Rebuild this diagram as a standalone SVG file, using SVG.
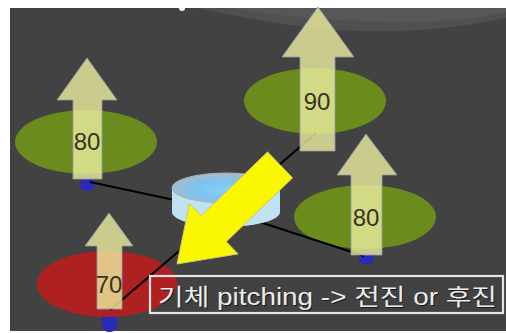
<svg xmlns="http://www.w3.org/2000/svg" width="506" height="333" viewBox="0 0 506 333">
  <style>
    .prop { fill: #6b8b1d; }
    .prop-hot { fill: #b81e1e; opacity: 0.92; }
    .knob { fill: #2a2ab8; }
    .thrust { fill: #eeeea0; fill-opacity: 0.8; stroke: #8d9fb0; stroke-width: 1; stroke-opacity: 0.8; }
    .val { font-family: "Liberation Sans", Arial, sans-serif; font-size: 24px; fill: #35351e; text-anchor: middle; }
    .arm { stroke: #000; stroke-width: 2.2; fill: none; }
    .caption { font-family: "Liberation Sans", "Noto Sans CJK KR", sans-serif; font-size: 23px; }
  </style>
  <defs>
    <radialGradient id="hubTop" cx="0.5" cy="0.55" r="0.5">
      <stop offset="0" stop-color="#86d0f8"/>
      <stop offset="0.6" stop-color="#7cc4ef"/>
      <stop offset="1" stop-color="#a4bccb"/>
    </radialGradient>
  </defs>

  <!-- page and slide background -->
  <rect width="506" height="333" fill="#ffffff"/>
  <rect x="10" y="8" width="496" height="323" fill="#424242"/>
  <path d="M196 8 C240 16 280 26 340 30 C400 34 460 28 506 18 L506 8 Z" fill="#505050"/>
  <path d="M230 8 C290 18 350 22 420 22 C460 21 490 16 506 12 L506 8 Z" fill="#575757"/>
  <circle cx="182" cy="8" r="3" fill="#ffffff"/>

  <!-- motor knobs -->
  <g id="knobs">
    <rect class="knob" x="80" y="178" width="15" height="13" rx="7"/>
    <rect class="knob" x="359" y="253" width="15" height="11" rx="6"/>
    <rect class="knob" x="102" y="306" width="15" height="26" rx="7"/>
  </g>

  <!-- propeller discs -->
  <g id="rotor-front-left"><ellipse class="prop" cx="86" cy="142" rx="71" ry="32"/></g>
  <g id="rotor-front-right"><ellipse class="prop" cx="315" cy="101" rx="71" ry="33"/></g>
  <g id="rotor-rear-right"><ellipse class="prop" cx="365" cy="217" rx="71" ry="32"/></g>
  <g id="rotor-rear-left"><ellipse class="prop-hot" cx="107" cy="284" rx="70" ry="33"/></g>

  <!-- frame arms -->
  <g id="arms">
    <line class="arm" x1="226" y1="211" x2="90" y2="182"/>
    <line class="arm" x1="226" y1="211" x2="316" y2="133"/>
    <line class="arm" x1="226" y1="211" x2="364" y2="256"/>
    <line class="arm" x1="226" y1="211" x2="110" y2="310"/>
  </g>

  <!-- central body -->
  <g id="hub">
    <path d="M172 188 L172 212 A54 15 0 0 0 280 212 L280 188 Z" fill="#bfe3f2"/>
    <ellipse cx="226" cy="188" rx="54" ry="15" fill="url(#hubTop)"/>
    <ellipse cx="226" cy="188" rx="54" ry="15" fill="none" stroke="#9fb3c0" stroke-width="1"/>
  </g>

  <!-- thrust arrows with values -->
  <g id="thrust-front-left">
    <polygon class="thrust" points="87,58 117,100 102,100 102,179 73,179 73,100 57,100"/>
    <text class="val" x="87" y="150">80</text>
  </g>
  <g id="thrust-front-right">
    <polygon class="thrust" points="318,7 354,57 335,57 335,151 300,151 300,57 282,57"/>
    <text class="val" x="317" y="110">90</text>
  </g>
  <g id="thrust-rear-right">
    <polygon class="thrust" points="366,134 397,175 382,175 382,255 351,255 351,175 337,175"/>
    <text class="val" x="366" y="226">80</text>
  </g>
  <g id="thrust-rear-left">
    <polygon class="thrust" points="109,213 133,246 122,246 122,309 97,309 97,246 85,246"/>
    <text class="val" x="109" y="293">70</text>
  </g>

  <!-- tilt direction arrow -->
  <g id="pitch-arrow">
    <polygon points="177,264 238.1,253.9 226.3,241.7 292.6,177.9 267.6,151.9 201.3,215.7 189.5,203.5" fill="#fbf700" stroke="#c9c77a" stroke-width="1"/>
  </g>

  <!-- caption -->
  <g id="caption">
    <rect x="150" y="276" width="353" height="37" fill="none" stroke="#e4e4e4" stroke-width="2.2"/>
    <text class="caption" x="159" y="306" fill="#1a1a1a" textLength="339" lengthAdjust="spacingAndGlyphs">기체 pitching -&gt; 전진 or 후진</text>
    <text class="caption" x="158" y="305" fill="#ececec" textLength="339" lengthAdjust="spacingAndGlyphs">기체 pitching -&gt; 전진 or 후진</text>
  </g>
</svg>
